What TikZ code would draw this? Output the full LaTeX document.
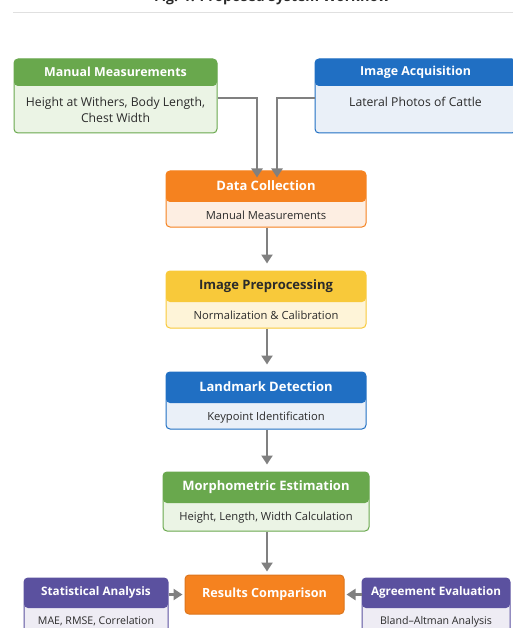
\documentclass[tikz,border=0pt]{standalone}
\usepackage{fontspec}
\setmainfont{Open Sans}
\usetikzlibrary{arrows.meta}
\definecolor{cgreen}{HTML}{69A84D}
\definecolor{cgreenL}{HTML}{EBF4E5}
\definecolor{cblue}{HTML}{206FC3}
\definecolor{cblueL}{HTML}{EAF0F8}
\definecolor{corange}{HTML}{F5821F}
\definecolor{corangeL}{HTML}{FDEEE2}
\definecolor{cyellow}{HTML}{F8C93A}
\definecolor{cyellowL}{HTML}{FEF4D8}
\definecolor{cpurple}{HTML}{5B519F}
\definecolor{cpurpleL}{HTML}{EEECF4}
\definecolor{carrow}{HTML}{808080}
\definecolor{ctext}{HTML}{2B2B2B}
\newlength\hdh
\def\hsz{12}
\def\bsz{10.5}
\def\boff{6pt}
\tikzset{
  wbox/.style={rounded corners=4pt, line width=1pt, inner sep=0pt},
  headtxt/.style={font=\fontsize{\hsz}{14}\selectfont\bfseries, text=white, inner sep=0pt},
  bodytxt/.style={font=\fontsize{\bsz}{16}\selectfont, text=ctext, align=center, inner sep=0pt},
  flow/.style={draw=carrow, line width=2.2pt, -{Triangle[width=11pt,length=9pt]}},
}
% #1 name, #2 cx, #3 cy, #4 w, #5 h, #6 colour, #7 light colour, #8 header, #9 body
\newcommand\wfbox[9]{%
  \node[wbox, draw=#6, fill=#7, minimum width=#4pt, minimum height=#5pt,
    path picture={\fill[#6] (path picture bounding box.north west) rectangle ([yshift=-\hdh]path picture bounding box.north east);}]
    (#1) at (#2,#3) {};
  \node[headtxt] (#1h) at ([yshift=-0.5\hdh]#1.north) {#8};
  \node[bodytxt, anchor=north] (#1b) at ([yshift=-\hdh-\boff]#1.north) {#9};
}
\begin{document}
\begin{tikzpicture}[x=1pt,y=-1pt]
\useasboundingbox (0,0) rectangle (513,628);
% title (cut off at top, as in the reference)
\node[font=\fontsize{14}{16}\selectfont\bfseries, text=ctext, anchor=base, inner sep=0pt] (title) at (272,2) {Fig. 1. Proposed System Workflow};
\coordinate (rl) at (13,12.5);
\coordinate (rr) at (513,12.5);
\draw[line width=1.2pt, draw=black!12] (rl) -- (rr);

\setlength\hdh{27pt}
\def\hsz{12.4}\def\bsz{12.2}\def\boff{11.5pt}
\wfbox{mm}{115.5}{96}{203}{74}{cgreen}{cgreenL}{Manual Measurements}{Height at Withers, Body Length,\\Chest Width}
\wfbox{ia}{415.5}{96}{201}{74}{cblue}{cblueL}{Image Acquisition}{Lateral Photos of Cattle}

\setlength\hdh{31pt}
\def\hsz{13}\def\bsz{11.2}\def\boff{9.5pt}
\wfbox{dc}{266}{199}{200}{56}{corange}{corangeL}{Data Collection}{Manual Measurements}
\wfbox{ip}{266}{299.5}{200}{57}{cyellow}{cyellowL}{\textcolor{ctext}{Image Preprocessing}}{Normalization \& Calibration}
\wfbox{ld}{266}{400.5}{200}{57}{cblue}{cblueL}{Landmark Detection}{Keypoint Identification}
\wfbox{me}{266}{501.5}{206}{59}{cgreen}{cgreenL}{Morphometric Estimation}{Height, Length, Width Calculation}

\setlength\hdh{30pt}
\def\hsz{11.7}\def\bsz{10.6}\def\boff{9pt}
\wfbox{sa}{96}{609}{144}{62}{cpurple}{cpurpleL}{Statistical Analysis}{MAE, RMSE, Correlation}
\wfbox{ae}{436}{609}{148}{62}{cpurple}{cpurpleL}{Agreement Evaluation}{Bland--Altman Analysis}

\def\hsz{12.6}
\node[wbox, draw=corange!90!black, fill=corange, minimum width=159pt, minimum height=39pt, headtxt] (rc) at (264.5,594.5) {Results Comparison};

% connectors
\draw[flow] (mm.east |- 0,98) -| ([xshift=-9pt,yshift=-7pt]dc.north);
\draw[flow] (ia.west |- 0,98) -| ([xshift=11pt,yshift=-7pt]dc.north);
\draw[flow, shorten >=7pt] ([xshift=1pt]dc.south) -- ([xshift=1pt]ip.north);
\draw[flow, shorten >=7pt] ([xshift=1pt]ip.south) -- ([xshift=1pt]ld.north);
\draw[flow, shorten >=7pt] ([xshift=1pt]ld.south) -- ([xshift=1pt]me.north);
\draw[flow, shorten >=3pt] ([xshift=1pt]me.south) -- (rc.north -| 267,0);
\draw[flow, shorten >=2pt] (sa.east |- rc.east) -- (rc.west);
\draw[flow, shorten >=2pt] (ae.west |- rc.west) -- (rc.east);
\end{tikzpicture}
\end{document}
